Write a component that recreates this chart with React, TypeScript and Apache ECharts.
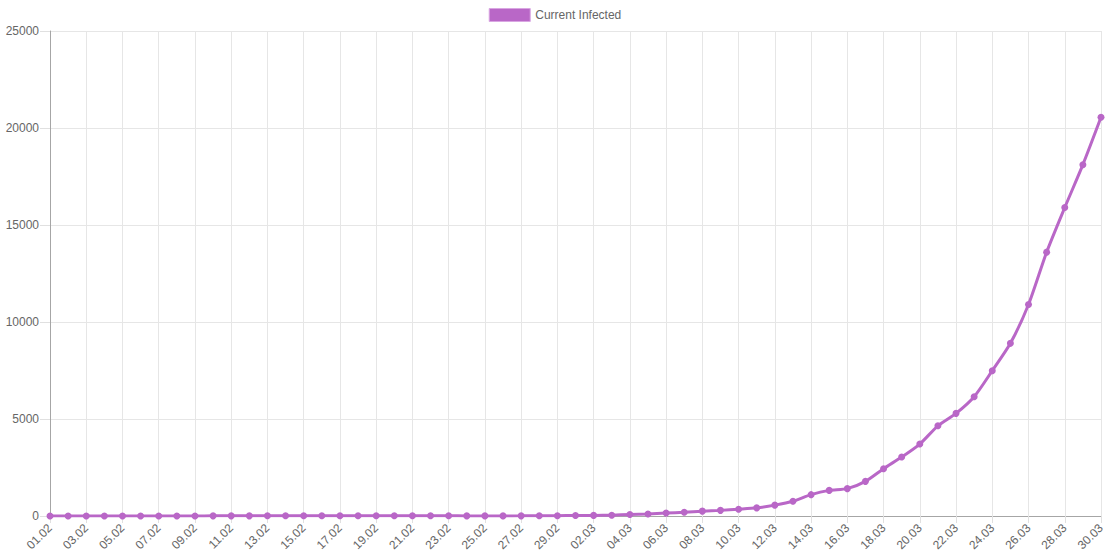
import React, { useEffect, useRef } from "react";
import * as echarts from "echarts";

const categories: string[] = [
  "01.02", "02.02", "03.02", "04.02", "05.02", "06.02", "07.02", "08.02", "09.02", "10.02",
  "11.02", "12.02", "13.02", "14.02", "15.02", "16.02", "17.02", "18.02", "19.02", "20.02",
  "21.02", "22.02", "23.02", "24.02", "25.02", "26.02", "27.02", "28.02", "29.02",
  "01.03", "02.03", "03.03", "04.03", "05.03", "06.03", "07.03", "08.03", "09.03", "10.03",
  "11.03", "12.03", "13.03", "14.03", "15.03", "16.03", "17.03", "18.03", "19.03", "20.03",
  "21.03", "22.03", "23.03", "24.03", "25.03", "26.03", "27.03", "28.03", "29.03", "30.03",
];

const febValues: number[] = [
  2, 2, 2, 2, 2, 2, 3, 3, 3, 8, 8, 8, 9, 9, 9, 9, 9, 9, 9, 9, 9, 9, 9, 5, 5, 5, 7, 12, 15,
];

const marValues: number[] = [
  28, 32, 43, 75, 105, 150, 190, 250, 290, 350,
  420, 560, 760, 1100, 1320, 1410, 1785, 2440, 3040, 3710,
  4650, 5290, 6150, 7490, 8900, 10900, 13600, 15900, 18110, 20550,
];

const currentInfected: number[] = [...febValues, ...marValues];

const seriesName = "Current Infected";
const lineColor = "#b967c7";
const font = "'Liberation Sans', Arial, Helvetica, sans-serif";

export default function App() {
  const ref = useRef<HTMLDivElement>(null);

  useEffect(() => {
    document.body.style.margin = "0";
    if (!ref.current) return;
    const chart = echarts.init(ref.current, undefined, { renderer: "svg" });
    chart.setOption({
      animation: false,
      backgroundColor: "#ffffff",
      textStyle: { fontFamily: font },
      legend: {
        top: 8,
        left: "center",
        padding: 0,
        icon: "rect",
        itemWidth: 41,
        itemHeight: 13,
        textStyle: { color: "#666", fontSize: 12, fontFamily: font },
        data: [
          {
            name: seriesName,
            itemStyle: { color: lineColor, borderColor: "#d9a6e2", borderWidth: 1 },
          },
        ],
      },
      grid: { left: 50, right: 9, top: 31, bottom: 39, containLabel: false },
      xAxis: {
        type: "category",
        data: categories,
        boundaryGap: false,
        axisLine: { show: true, lineStyle: { color: "#a6a6a6", width: 1 } },
        axisTick: { show: true, interval: 1, length: 7, lineStyle: { color: "#e0e0e0" } },
        splitLine: { show: true, interval: 1, lineStyle: { color: "#e6e6e6", width: 1 } },
        axisLabel: {
          interval: 1,
          rotate: 45,
          margin: 10,
          color: "#666",
          fontSize: 12,
          fontFamily: font,
        },
      },
      yAxis: {
        type: "value",
        min: 0,
        max: 25000,
        interval: 5000,
        axisLine: { show: true, lineStyle: { color: "#a6a6a6", width: 1 } },
        axisTick: { show: true, length: 10, lineStyle: { color: "#e0e0e0" } },
        splitLine: { show: true, lineStyle: { color: "#e6e6e6", width: 1 } },
        axisLabel: {
          margin: 11,
          color: "#666",
          fontSize: 12,
          fontFamily: font,
          formatter: (v: number) => String(v),
        },
      },
      series: [
        {
          name: seriesName,
          type: "line",
          data: currentInfected,
          smooth: 0.25,
          symbol: "circle",
          symbolSize: 7,
          showSymbol: true,
          lineStyle: { color: lineColor, width: 3 },
          itemStyle: { color: lineColor },
          z: 3,
        },
      ],
    });
    return () => chart.dispose();
  }, []);

  return <div ref={ref} style={{ width: 1110, height: 555 }} />;
}
